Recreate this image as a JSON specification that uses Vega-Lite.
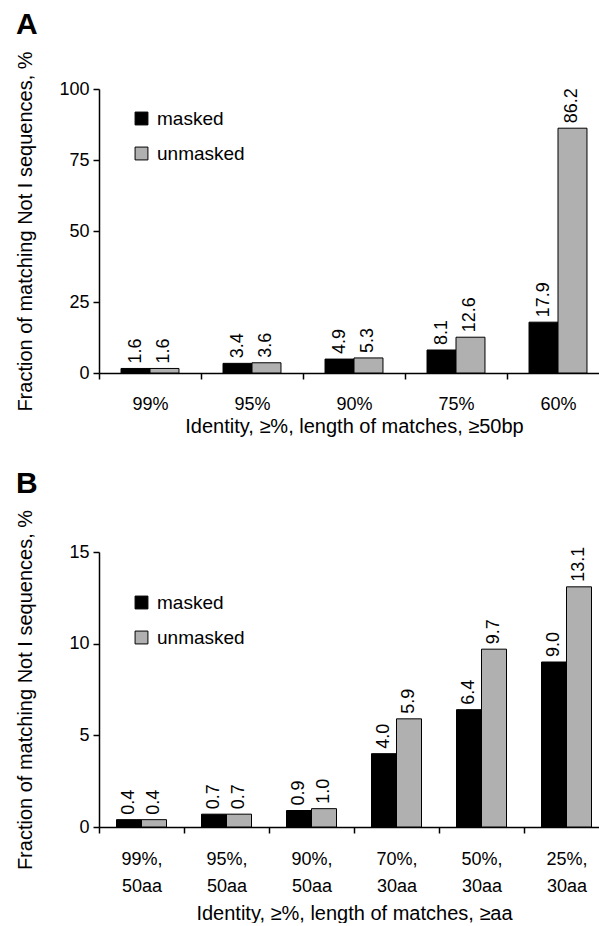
{
  "$schema": "https://vega.github.io/schema/vega-lite/v6.json",
  "padding": {"left": 15, "top": 10, "right": -9, "bottom": 0},
  "background": "white",
  "config": {
    "font": "Liberation Sans",
    "view": {"stroke": null},
    "axis": {
      "grid": false,
      "domainColor": "black",
      "domainWidth": 1.5,
      "tickColor": "black",
      "tickWidth": 1.5,
      "tickSize": 6,
      "labelColor": "black",
      "labelFontSize": 18,
      "labelFont": "Liberation Sans",
      "titleColor": "black",
      "titleFontSize": 20,
      "titleFontWeight": "normal",
      "titleFont": "Liberation Sans"
    },
    "legend": {
      "labelFontSize": 19,
      "labelColor": "black",
      "labelFont": "Liberation Sans",
      "symbolType": "square",
      "symbolSize": 165,
      "symbolStrokeColor": "black",
      "symbolStrokeWidth": 1,
      "rowPadding": 15,
      "labelOffset": 6
    },
    "title": {"fontSize": 30, "fontWeight": "bold", "color": "black", "font": "Liberation Sans", "anchor": "start"},
    "concat": {"spacing": 32}
  },
  "resolve": {"scale": {"fill": "independent", "x": "independent", "y": "independent", "xOffset": "independent"}, "legend": {"fill": "independent"}},
  "datasets": {
    "a": [
      {"cat": "99%", "type": "masked", "value": 1.6},
      {"cat": "99%", "type": "unmasked", "value": 1.6},
      {"cat": "95%", "type": "masked", "value": 3.4},
      {"cat": "95%", "type": "unmasked", "value": 3.6},
      {"cat": "90%", "type": "masked", "value": 4.9},
      {"cat": "90%", "type": "unmasked", "value": 5.3},
      {"cat": "75%", "type": "masked", "value": 8.1},
      {"cat": "75%", "type": "unmasked", "value": 12.6},
      {"cat": "60%", "type": "masked", "value": 17.9},
      {"cat": "60%", "type": "unmasked", "value": 86.2}
    ],
    "b": [
      {"cat": "99%, 50aa", "type": "masked", "value": 0.4},
      {"cat": "99%, 50aa", "type": "unmasked", "value": 0.4},
      {"cat": "95%, 50aa", "type": "masked", "value": 0.7},
      {"cat": "95%, 50aa", "type": "unmasked", "value": 0.7},
      {"cat": "90%, 50aa", "type": "masked", "value": 0.9},
      {"cat": "90%, 50aa", "type": "unmasked", "value": 1.0},
      {"cat": "70%, 30aa", "type": "masked", "value": 4.0},
      {"cat": "70%, 30aa", "type": "unmasked", "value": 5.9},
      {"cat": "50%, 30aa", "type": "masked", "value": 6.4},
      {"cat": "50%, 30aa", "type": "unmasked", "value": 9.7},
      {"cat": "25%, 30aa", "type": "masked", "value": 9.0},
      {"cat": "25%, 30aa", "type": "unmasked", "value": 13.1}
    ]
  },
  "vconcat": [
    {
      "width": 510,
      "height": 284,
      "title": {"text": "A", "offset": 8},
      "data": {"name": "a"},
      "encoding": {
        "x": {
          "field": "cat", "type": "nominal", "sort": null,
          "scale": {"paddingInner": 0, "paddingOuter": 0},
          "axis": {"title": "Identity, ≥%, length of matches, ≥50bp", "labelAngle": 0, "tickBand": "extent", "labelPadding": 16, "titlePadding": 3, "labelExpr": "datum.value ? datum.value : ''"}
        },
        "xOffset": {"field": "type", "type": "nominal", "sort": ["masked", "unmasked"], "scale": {"paddingInner": 0, "paddingOuter": 0.76}},
        "y": {
          "field": "value", "type": "quantitative",
          "scale": {"domain": [0, 100]},
          "axis": {"values": [0, 25, 50, 75, 100], "title": "Fraction of matching  Not I sequences, %", "titlePadding": 23, "labelPadding": 4}
        }
      },
      "layer": [
        {
          "mark": {"type": "bar", "stroke": "black", "strokeWidth": 1},
          "encoding": {
            "fill": {
              "field": "type", "type": "nominal",
              "scale": {"domain": ["masked", "unmasked"], "range": ["#000000", "#b0b0b0"]},
              "legend": {"title": null, "orient": "none", "legendX": 33, "legendY": 20}
            }
          }
        },
        {
          "mark": {"type": "text", "angle": -90, "align": "left", "baseline": "middle", "dx": 5, "fontSize": 18, "color": "black"},
          "encoding": {"text": {"field": "value", "type": "quantitative", "format": ".1f"}}
        }
      ]
    },
    {
      "width": 510,
      "height": 275,
      "title": {"text": "B", "offset": 8},
      "data": {"name": "b"},
      "encoding": {
        "x": {
          "field": "cat", "type": "nominal", "sort": null,
          "scale": {"paddingInner": 0, "paddingOuter": 0},
          "axis": {"title": "Identity, ≥%, length of matches, ≥aa", "labelAngle": 0, "tickBand": "extent", "labelPadding": 17, "titlePadding": 8, "labelExpr": "datum.value ? split(datum.value, ' ') : ''", "labelLineHeight": 27}
        },
        "xOffset": {"field": "type", "type": "nominal", "sort": ["masked", "unmasked"], "scale": {"paddingInner": 0, "paddingOuter": 0.7}},
        "y": {
          "field": "value", "type": "quantitative",
          "scale": {"domain": [0, 15]},
          "axis": {"values": [0, 5, 10, 15], "title": "Fraction of matching  Not I sequences, %", "titlePadding": 33, "labelPadding": 4}
        }
      },
      "layer": [
        {
          "mark": {"type": "bar", "stroke": "black", "strokeWidth": 1},
          "encoding": {
            "fill": {
              "field": "type", "type": "nominal",
              "scale": {"domain": ["masked", "unmasked"], "range": ["#000000", "#b0b0b0"]},
              "legend": {"title": null, "orient": "none", "legendX": 33, "legendY": 41}
            }
          }
        },
        {
          "mark": {"type": "text", "angle": -90, "align": "left", "baseline": "middle", "dx": 5, "fontSize": 18, "color": "black"},
          "encoding": {"text": {"field": "value", "type": "quantitative", "format": ".1f"}}
        }
      ]
    }
  ]
}
